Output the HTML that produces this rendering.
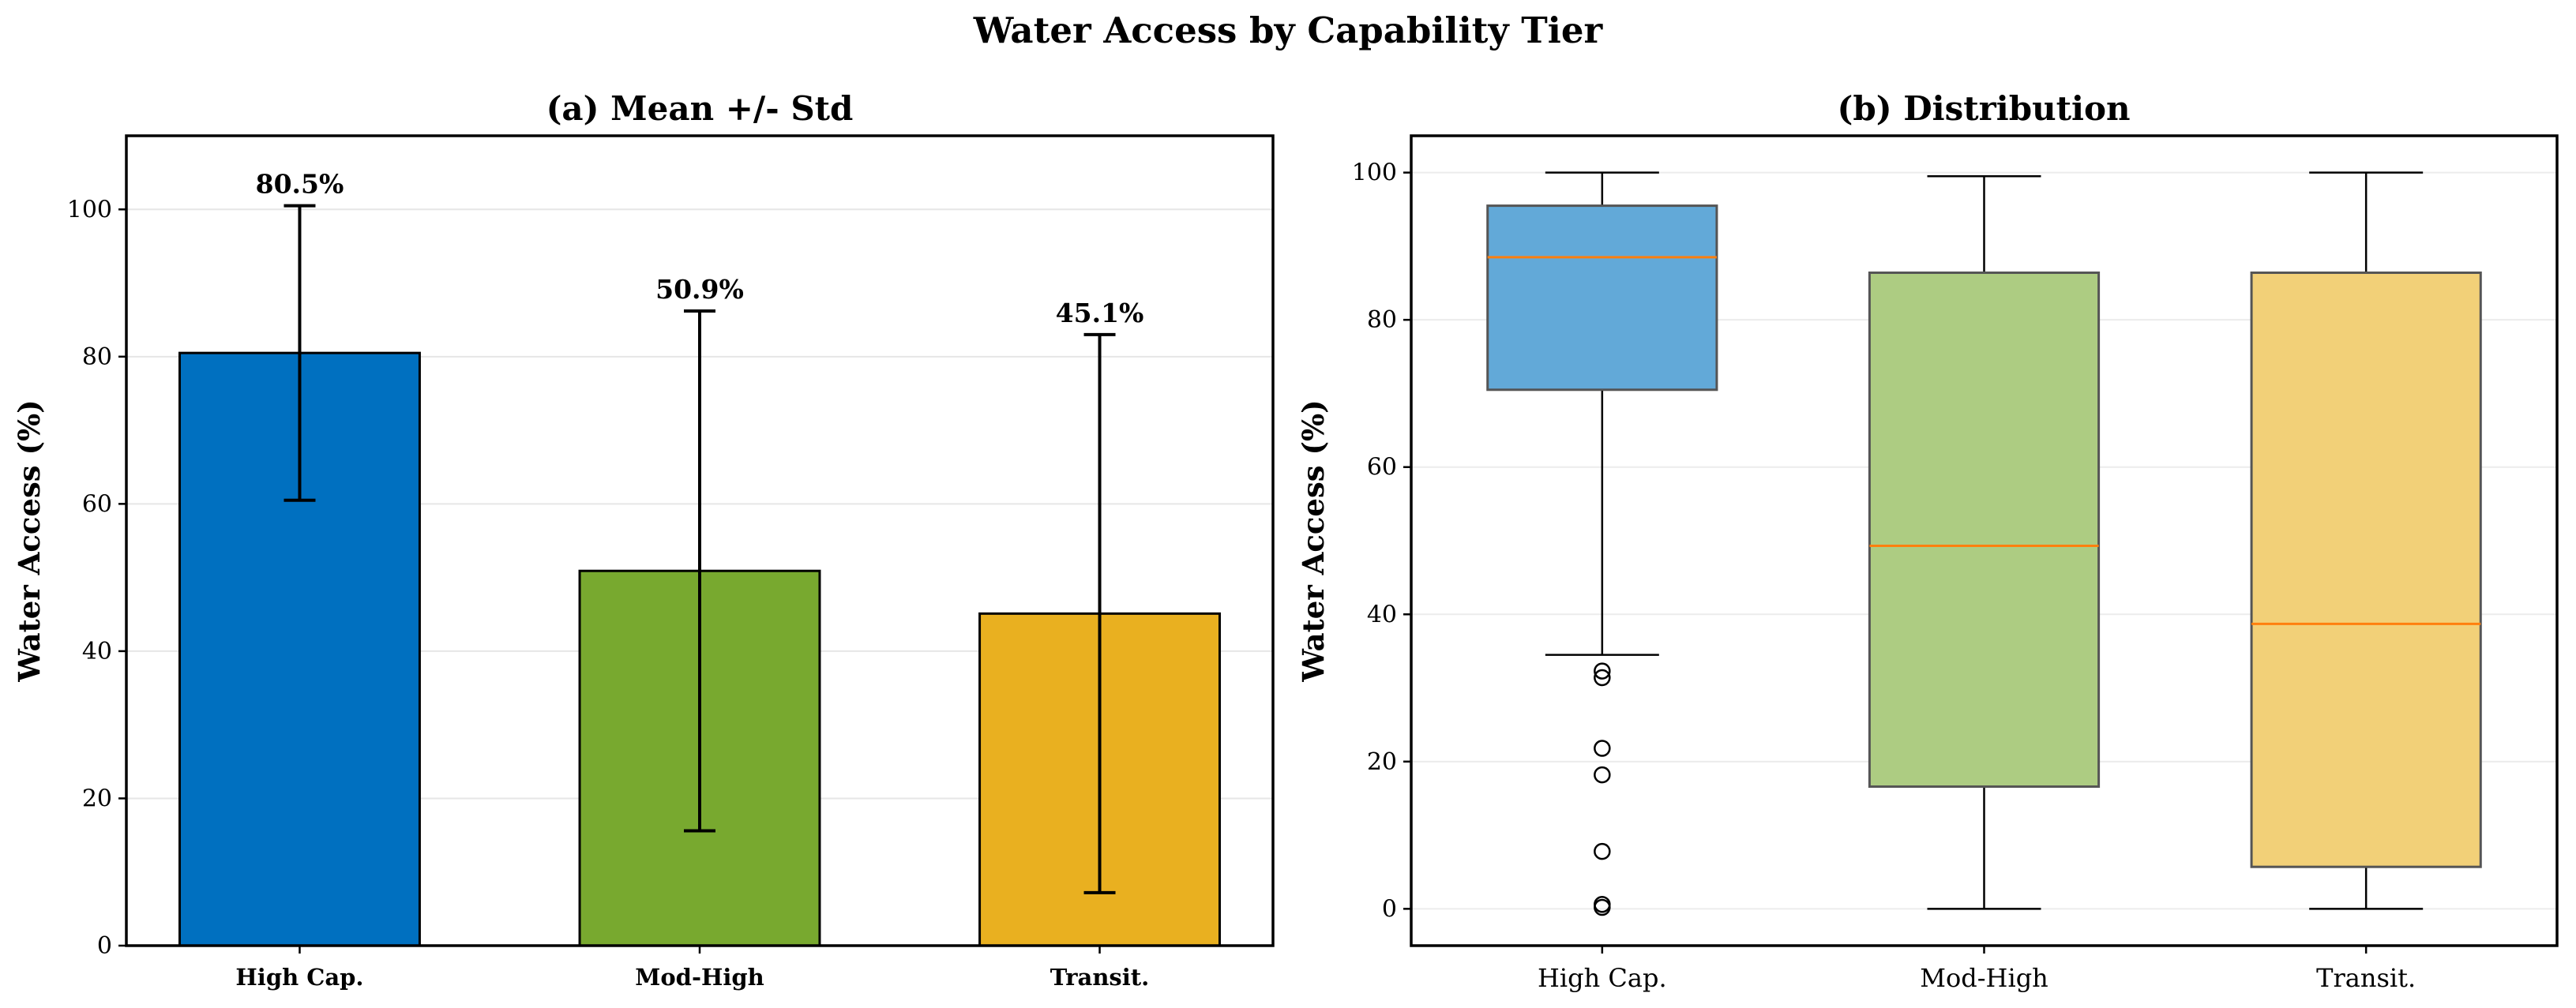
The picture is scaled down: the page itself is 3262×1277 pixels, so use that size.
<!DOCTYPE html>
<html><head><meta charset="utf-8"><style>
body{margin:0;background:#fff}
svg{display:block;font-family:"DejaVu Serif","Liberation Serif",serif}
</style></head><body>
<svg id="c" width="3262" height="1277" viewBox="0 0 3262 1277" xmlns="http://www.w3.org/2000/svg">
<text x="1631" y="54" text-anchor="middle" font-size="45" font-weight="bold">Water Access by Capability Tier</text>
<text x="886" y="152" text-anchor="middle" font-size="42" font-weight="bold">(a) Mean +/- Std</text>
<text x="2512" y="152" text-anchor="middle" font-size="42" font-weight="bold">(b) Distribution</text>
<text transform="translate(50,685) rotate(-90)" text-anchor="middle" font-size="37" font-weight="bold">Water Access (%)</text>
<text transform="translate(1676,685) rotate(-90)" text-anchor="middle" font-size="37" font-weight="bold">Water Access (%)</text>
<g id="L"></g><g id="R"></g>
</svg>
<script>
const categories = ["High Cap.", "Mod-High", "Transit."];
const means = [80.5, 50.9, 45.1];
const stds = [20.0, 35.3, 37.9];
const meanLabels = ["80.5%", "50.9%", "45.1%"];
const barColors = ["#0070c0", "#78a92f", "#e9b020"];
const yTicks = [0, 20, 40, 60, 80, 100];
const boxWhiskLo = [34.5, 0, 0];
const boxQ1 = [70.5, 16.6, 5.7];
const boxMedian = [88.5, 49.3, 38.7];
const boxQ3 = [95.5, 86.4, 86.4];
const boxWhiskHi = [100, 99.5, 100];
const outliersHC = [32.3, 31.4, 21.8, 18.2, 7.8, 0.6, 0.2];
const boxColors = ["#62a9d8", "#adcc82", "#f2d078"];

const NS = "http://www.w3.org/2000/svg";
function mk(parent, tag, attrs, text) {
  const e = document.createElementNS(NS, tag);
  for (const k in attrs) e.setAttribute(k, attrs[k]);
  if (text !== undefined) e.textContent = text;
  parent.appendChild(e);
  return e;
}
// Left panel
const L = document.getElementById("L");
const lx0 = 160, lx1 = 1612, ly0 = 172, ly1 = 1198;
const lyS = v => ly1 - (v - 0) / 110 * (ly1 - ly0);
const lxS = i => lx0 + (i + 0.4333) / 2.8666 * (lx1 - lx0);
yTicks.forEach(t => {
  const g = mk(L, "line", {x1: lx0, x2: lx1, y1: lyS(t), y2: lyS(t), stroke: "#e6e6e6", "stroke-width": 2});
  
  
  const tk = mk(L, "line", {x1: lx0 - 10, x2: lx0, y1: lyS(t), y2: lyS(t), stroke: "#000", "stroke-width": 2.5});
  
  
  const tl = mk(L, "text", {x: lx0 - 18, y: lyS(t) + 10, "text-anchor": "end", "font-size": 30}, String(t));
  
  
});
const bw = 0.6 / 2.8666 * (lx1 - lx0);
categories.forEach((c, i) => {
  const cx = lxS(i);
  const b = mk(L, "rect", {x: cx - bw / 2, y: lyS(means[i]), width: bw, height: lyS(0) - lyS(means[i]), fill: barColors[i], stroke: "#000", "stroke-width": 3});
  
  
  const hi = lyS(means[i] + stds[i]), lo = lyS(means[i] - stds[i]);
  const eb = mk(L, "path", {d: `M${cx},${hi}V${lo}M${cx - 20},${hi}H${cx + 20}M${cx - 20},${lo}H${cx + 20}`, stroke: "#000", "stroke-width": 4, fill: "none"});
  
  
  const vl = mk(L, "text", {x: cx, y: hi - 16, "text-anchor": "middle", "font-size": 33, "font-weight": "bold"}, meanLabels[i]);
  
  
  const xt = mk(L, "line", {x1: cx, x2: cx, y1: ly1, y2: ly1 + 10, stroke: "#000", "stroke-width": 2.5});
  
  
  const xl = mk(L, "text", {x: cx, y: ly1 + 50, "text-anchor": "middle", "font-size": 29, "font-weight": "bold"}, c);
  
  
});
const lf = mk(L, "rect", {x: lx0, y: ly0, width: lx1 - lx0, height: ly1 - ly0, fill: "none", stroke: "#000", "stroke-width": 3.5});



// Right panel
const R = document.getElementById("R");
const rx0 = 1787, rx1 = 3238, ry0 = 172, ry1 = 1198;
const ryS = v => ry1 - (v + 5) / 110 * (ry1 - ry0);
const rxS = i => rx0 + (i + 0.5) / 3 * (rx1 - rx0);
yTicks.forEach(t => {
  const g = mk(R, "line", {x1: rx0, x2: rx1, y1: ryS(t), y2: ryS(t), stroke: "#ececec", "stroke-width": 2});
  
  
  const tk = mk(R, "line", {x1: rx0 - 10, x2: rx0, y1: ryS(t), y2: ryS(t), stroke: "#000", "stroke-width": 2.5});
  
  
  const tl = mk(R, "text", {x: rx0 - 18, y: ryS(t) + 10, "text-anchor": "end", "font-size": 30}, String(t));
  
  
});
const rbw = 0.6 / 3 * (rx1 - rx0);
categories.forEach((c, i) => {
  const cx = rxS(i);
  const w = mk(R, "path", {d: `M${cx},${ryS(boxWhiskLo[i])}V${ryS(boxQ1[i])}M${cx},${ryS(boxQ3[i])}V${ryS(boxWhiskHi[i])}M${cx - 72},${ryS(boxWhiskLo[i])}H${cx + 72}M${cx - 72},${ryS(boxWhiskHi[i])}H${cx + 72}`, stroke: "#000", "stroke-width": 2.5, fill: "none"});
  
  
  const b = mk(R, "rect", {x: cx - rbw / 2, y: ryS(boxQ3[i]), width: rbw, height: ryS(boxQ1[i]) - ryS(boxQ3[i]), fill: boxColors[i], stroke: "#555", "stroke-width": 3});
  
  
  const m = mk(R, "line", {x1: cx - rbw / 2, x2: cx + rbw / 2, y1: ryS(boxMedian[i]), y2: ryS(boxMedian[i]), stroke: "#ff7f0e", "stroke-width": 3});
  
  
  const xt = mk(R, "line", {x1: cx, x2: cx, y1: ry1, y2: ry1 + 10, stroke: "#000", "stroke-width": 2.5});
  
  
  const xl = mk(R, "text", {x: cx, y: ry1 + 52, "text-anchor": "middle", "font-size": 32}, c);
  
  
});
outliersHC.forEach(v => {
  const o = mk(R, "circle", {cx: rxS(0), cy: ryS(v), r: 9.5, fill: "none", stroke: "#000", "stroke-width": 2.5});
  
  
});
const rf = mk(R, "rect", {x: rx0, y: ry0, width: rx1 - rx0, height: ry1 - ry0, fill: "none", stroke: "#000", "stroke-width": 3.5});


</script>
</body></html>
